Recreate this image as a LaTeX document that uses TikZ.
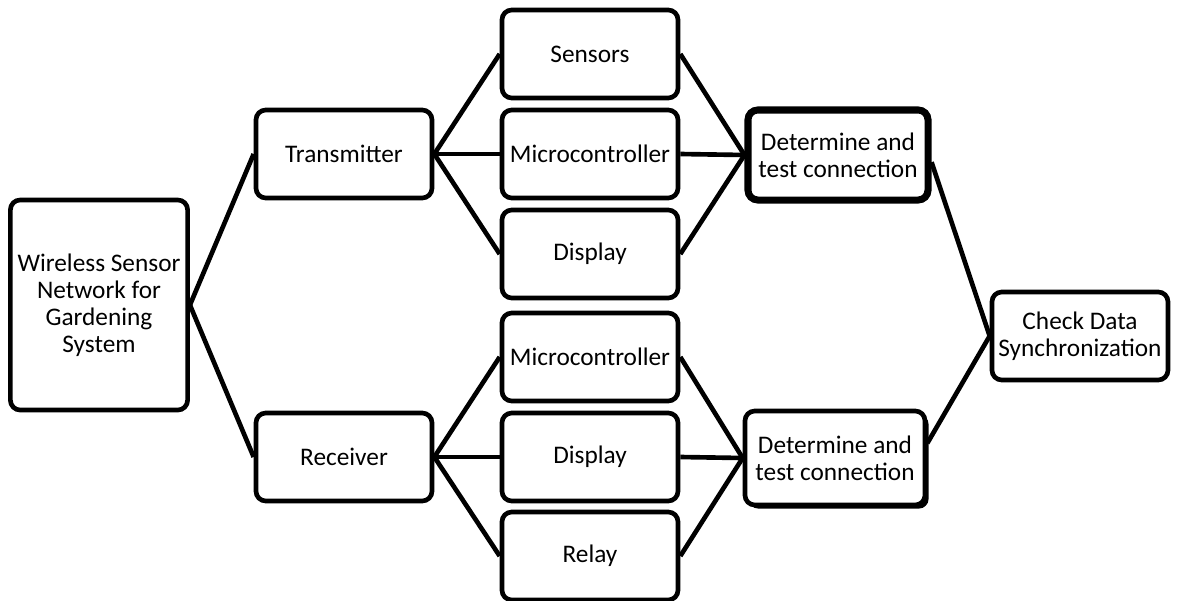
\documentclass[tikz,border=0pt]{standalone}
\usepackage{fontspec}
\setmainfont{Carlito}
\usetikzlibrary{shadows}

\tikzset{
  blk/.style={draw, line width=3.3pt, rounded corners=7pt, fill=white,
    align=center, inner sep=2pt, font=\fontsize{18}{19.2}\selectfont,
    minimum width=4.4cm, minimum height=2.2cm},
  link/.style={line width=3.3pt}
}

\begin{document}
\begin{tikzpicture}[x=0.025cm, y=-0.025cm]
\useasboundingbox (0,0) rectangle (1178,600);

% system and its two halves
\node [blk, minimum width=4.43cm, minimum height=5.25cm] (wsn) at (99,305)
  {Wireless Sensor\\Network for\\Gardening\\System};
\node [blk] (tx) at (344,154) {Transmitter};
\node [blk] (rx) at (344,457) {Receiver};

% parts
\node [blk] (sens)  at (590,54)  {Sensors};
\node [blk] (tmcu)  at (590,154) {Microcontroller};
\node [blk] (tdisp) at (590,254) {Display};
\node [blk] (rmcu)  at (590,357) {Microcontroller};
\node [blk] (rdisp) at (590,457) {Display};
\node [blk] (relay) at (590,556) {Relay};

% tests
\node [blk, line width=5pt, minimum width=4.5cm, minimum height=2.25cm] (tconn) at (838,155)
  {Determine and\\test connection};
\node [blk, minimum width=4.5cm, minimum height=2.35cm,
  drop shadow={shadow xshift=0.09cm, shadow yshift=-0.09cm, opacity=1, fill=black}]
  (rconn) at (835,458) {Determine and\\test connection};
\node [blk] (sync) at (1080,336) {Check Data\\Synchronization};

\draw [link] (wsn.east) -- (tx.west);
\draw [link] (wsn.east) -- (rx.west);

\foreach \p in {sens,tmcu,tdisp} {
  \draw [link] (tx.east) -- (\p.west);
  \draw [link] (\p.east) -- (tconn.west);
}
\foreach \p in {rmcu,rdisp,relay} {
  \draw [link] (rx.east) -- (\p.west);
  \draw [link] (\p.east) -- (rconn.west);
}

\draw [link] ([yshift=-0.18cm]tconn.east) -- (sync.west);
\draw [link] ([yshift=0.37cm]rconn.east) -- (sync.west);
\end{tikzpicture}
\end{document}
